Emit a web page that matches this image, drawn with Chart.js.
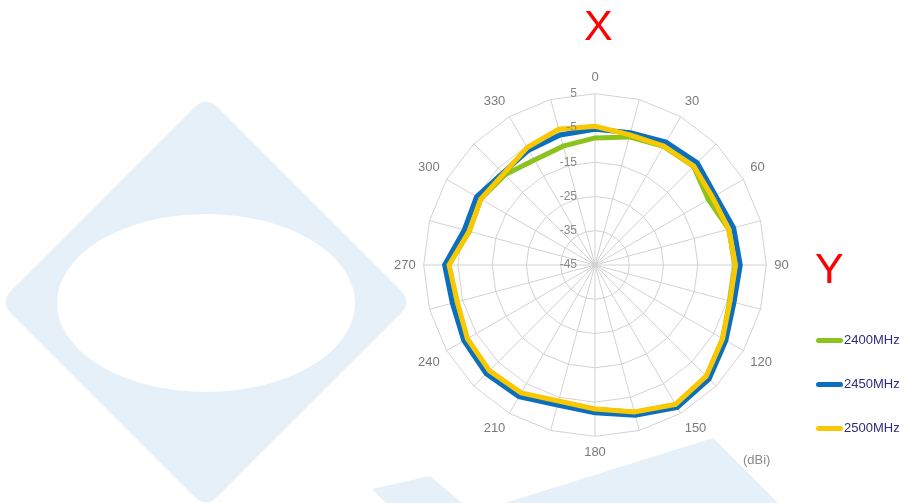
<!DOCTYPE html>
<html>
<head>
<meta charset="utf-8">
<script src="https://cdn.jsdelivr.net/npm/chart.js@4.4.1/dist/chart.umd.min.js"></script>
<style>
  html, body { margin: 0; padding: 0; background: #ffffff; }
  #wrap { position: relative; width: 923px; height: 503px; overflow: hidden; font-family: "Liberation Sans", Arial, sans-serif; }
  #bg { position: absolute; left: 0; top: 0; }
  #chart { position: absolute; left: 0; top: 0; }
  .big { position: absolute; color: #ff0000; font-size: 43px; line-height: 1; }
  .unit { position: absolute; color: #8a8a8a; font-size: 13px; line-height: 1; }
  .leg { position: absolute; left: 816px; height: 16px; display: flex; align-items: center; }
  .leg .sw { width: 27px; height: 5px; border-radius: 3px; margin-right: 1px; }
  .leg .tx { font-size: 13px; color: #2d2d7e; line-height: 16px; }
</style>
</head>
<body>
<div id="wrap">
  <svg id="bg" width="923" height="503" xmlns="http://www.w3.org/2000/svg">
    <rect x="60.3" y="156.3" width="291.4" height="291.4" rx="14" ry="14" fill="#e6f0f8" transform="rotate(45 206 302)"/>
    <ellipse cx="206" cy="303" rx="149" ry="89" fill="#ffffff"/>
    <polygon points="372,489 430,476 462,503 386,503" fill="#e6f0f8"/>
    <polygon points="505,503 713,438 778,503" fill="#e6f0f8"/>
  </svg>
  <canvas id="chart" width="923" height="503"></canvas>
  <div class="big" style="left:584px; top:4px;">X</div>
  <div class="big" style="left:815px; top:247px;">Y</div>
  <div class="unit" style="left:743px; top:453px;">(dBi)</div>
  <div id="legend"></div>
</div>
<script>
// ---- data ----
const angleLabels = ['0','15','30','45','60','75','90','105','120','135','150','165',
                     '180','195','210','225','240','255','270','285','300','315','330','345'];
const radialTicks = [-45, -35, -25, -15, -5, 5];
const seriesNames = ['2400MHz', '2450MHz', '2500MHz'];
const gain2400 = [-7.9, -6.3, -5.0, -4.3, -6.8, -4.6, -4.1, -4.3, -2.0, 1.0, 2.1, -0.5,
                  -2.9, -3.7, -1.7, -1.2, -1.8, -3.2, -2.3, -7.0, -6.5, -7.8, -9.6, -9.1];
const gain2450 = [-5.4, -5.0, -3.6, -2.8, -4.4, -3.1, -2.6, -3.0, -0.9, 2.1, 3.0, 0.4,
                  -1.9, -2.7, -0.6, -0.1, -0.8, -1.9, -1.1, -5.5, -5.1, -7.0, -6.3, -5.7];
const gain2500 = [-4.5, -5.7, -4.9, -4.2, -5.4, -4.6, -4.0, -4.2, -2.0, 0.9, 2.0, -0.6,
                  -3.0, -3.9, -1.9, -1.4, -2.0, -3.4, -2.4, -7.0, -6.5, -7.3, -5.4, -4.0];
const seriesColors = ['#8cc21c', '#0b6fbd', '#f9c800'];

Chart.defaults.font.family = '"Liberation Sans", Arial, sans-serif';

const tickLabelPlugin = {
  id: 'tickLabels',
  afterDatasetsDraw(chart) {
    const s = chart.scales.r;
    const ctx = chart.ctx;
    ctx.save();
    ctx.font = '12px "Liberation Sans", Arial, sans-serif';
    ctx.fillStyle = '#888888';
    ctx.textAlign = 'right';
    ctx.textBaseline = 'middle';
    radialTicks.forEach(v => {
      const d = s.getDistanceFromCenterForValue(v);
      ctx.fillText(String(v), s.xCenter - 18, s.yCenter - d);
    });
    ctx.restore();
  }
};

const allSeries = [gain2400, gain2450, gain2500];
const datasets = allSeries.map((vals, i) => ({
  label: seriesNames[i],
  data: vals,
  borderColor: seriesColors[i],
  backgroundColor: seriesColors[i],
  borderWidth: 5,
  fill: false,
  tension: 0,
  pointRadius: 0,
  borderJoinStyle: 'miter',
  order: 3 - i
}));

new Chart(document.getElementById('chart'), {
  type: 'radar',
  data: { labels: angleLabels, datasets },
  options: {
    responsive: false,
    animation: false,
    layout: { padding: { left: 391, right: 130, top: 65, bottom: 36 } },
    plugins: { legend: { display: false }, tooltip: { enabled: false } },
    scales: {
      r: {
        min: radialTicks[0],
        max: radialTicks[radialTicks.length - 1],
        ticks: { stepSize: 10, display: false },
        grid: { color: '#d2d2d2', lineWidth: 1 },
        angleLines: { color: '#d2d2d2', lineWidth: 1 },
        pointLabels: {
          padding: 8,
          color: '#7a7a7a',
          font: { size: 13 },
          callback: (lbl) => (Number(lbl) % 30 === 0 ? lbl : '')
        }
      }
    }
  },
  plugins: [tickLabelPlugin]
});

// HTML legend built from series arrays
const legend = document.getElementById('legend');
const legendTops = [332, 376, 420];
seriesNames.forEach((name, i) => {
  const item = document.createElement('div');
  item.className = 'leg';
  item.style.top = legendTops[i] + 'px';
  item.innerHTML = '<div class="sw" style="background:' + seriesColors[i] + '"></div><div class="tx">' + name + '</div>';
  legend.appendChild(item);
});
</script>
</body>
</html>
